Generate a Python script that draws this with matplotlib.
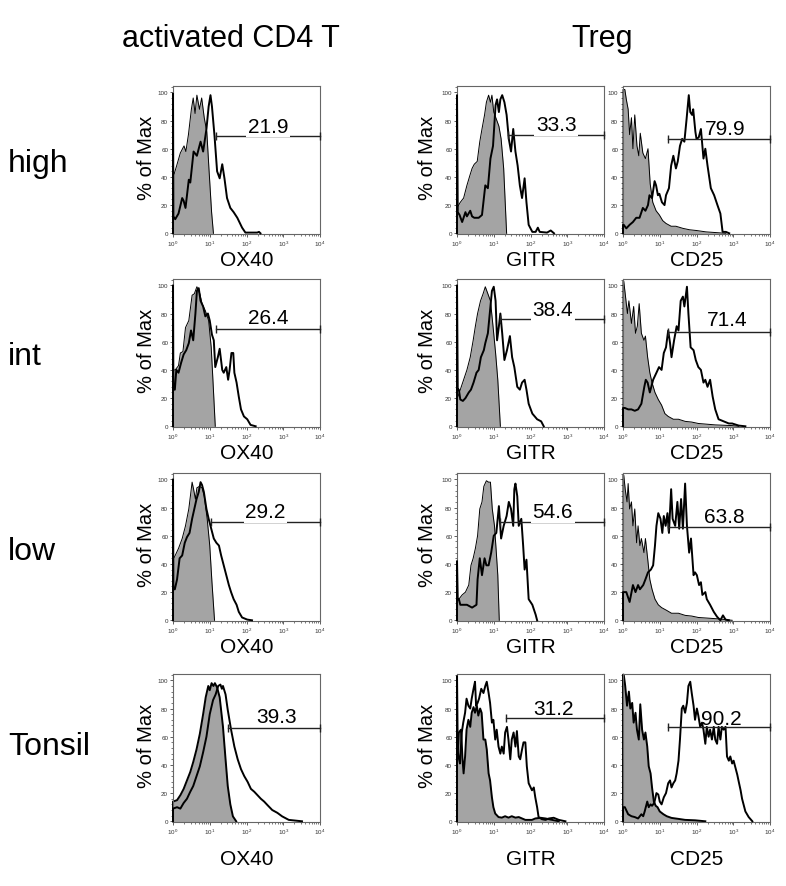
import matplotlib
matplotlib.use('Agg')
import matplotlib.pyplot as plt
from matplotlib.ticker import AutoMinorLocator, FixedLocator, LogLocator, NullFormatter
import numpy as np

plt.rcParams['font.family'] = ['Liberation Sans', 'DejaVu Sans']
plt.rcParams['mathtext.fontset'] = 'custom'
plt.rcParams['mathtext.rm'] = 'Liberation Sans'

# ---------------- data: (log10 intensity, % of max) ----------------
rows = ['high', 'int', 'low', 'Tonsil']
markers = ['OX40', 'GITR', 'CD25']
column_titles = ['activated CD4 T', 'Treg']

OX40_high_ctrl = [(0.00, 41), (0.03, 42), (0.10, 48), (0.20, 57), (0.30, 62), (0.35, 58), (0.42, 70), (0.50, 88),
                  (0.55, 96), (0.60, 85), (0.65, 98), (0.72, 88), (0.78, 96), (0.85, 82), (0.92, 72), (0.98, 45),
                  (1.05, 15), (1.10, 0)]
OX40_high_stain = [(0.00, 99), (0.01, 12), (0.06, 10), (0.15, 14), (0.25, 25), (0.29, 23), (0.34, 18), (0.43, 38),
                   (0.47, 36), (0.56, 58), (0.65, 55), (0.75, 65), (0.82, 58), (0.91, 74), (0.97, 90), (1.02, 98),
                   (1.06, 90), (1.13, 69), (1.20, 44), (1.27, 39), (1.34, 49), (1.40, 39), (1.47, 25), (1.56, 18),
                   (1.65, 15), (1.75, 11), (1.88, 4), (1.97, 0.5), (2.29, 0.5), (2.34, 1), (2.38, 0)]

OX40_int_ctrl = [(0.00, 40), (0.06, 40), (0.15, 43), (0.20, 52), (0.27, 53), (0.34, 70), (0.43, 75), (0.52, 93),
                 (0.58, 94), (0.65, 99), (0.73, 94), (0.79, 87), (0.88, 82), (0.97, 75), (1.04, 56), (1.09, 31),
                 (1.15, 0)]
OX40_int_stain = [(0.00, 100), (0.01, 26), (0.05, 26), (0.09, 40), (0.15, 38), (0.22, 45), (0.29, 51), (0.36, 54),
                  (0.43, 59), (0.49, 68), (0.55, 61), (0.61, 80), (0.65, 96), (0.70, 98), (0.75, 89), (0.82, 85),
                  (0.88, 78), (0.95, 80), (1.00, 75), (1.06, 65), (1.11, 61), (1.15, 42), (1.22, 49), (1.27, 55),
                  (1.34, 40), (1.38, 38), (1.45, 42), (1.50, 33), (1.54, 40), (1.59, 52), (1.64, 52), (1.67, 38),
                  (1.73, 31), (1.79, 21), (1.85, 12), (1.93, 7), (2.02, 5), (2.11, 1), (2.25, 0)]

OX40_low_ctrl = [(0.00, 43), (0.06, 46), (0.15, 51), (0.25, 58), (0.34, 67), (0.43, 79), (0.52, 98), (0.56, 93),
                 (0.61, 86), (0.65, 94), (0.72, 95), (0.79, 94), (0.85, 88), (0.93, 72), (1.00, 53), (1.06, 27),
                 (1.13, 0)]
OX40_low_stain = [(0.00, 100), (0.01, 22), (0.05, 22), (0.11, 29), (0.18, 44), (0.25, 46), (0.32, 55), (0.38, 59),
                  (0.45, 62), (0.52, 72), (0.58, 79), (0.64, 86), (0.70, 91), (0.75, 98), (0.79, 96), (0.84, 91),
                  (0.91, 79), (0.97, 72), (1.04, 65), (1.11, 58), (1.18, 55), (1.25, 53), (1.31, 46), (1.38, 39),
                  (1.45, 32), (1.52, 25), (1.58, 20), (1.65, 15), (1.73, 11), (1.79, 6), (1.88, 2), (2.02, 0.5),
                  (2.15, 0)]

OX40_tonsil_ctrl = [(0.00, 14), (0.11, 15), (0.20, 18.5), (0.29, 23), (0.38, 29), (0.47, 35), (0.55, 42), (0.64, 51),
                    (0.73, 62), (0.82, 76), (0.89, 88), (0.96, 96), (1.00, 93), (1.05, 98), (1.10, 96), (1.14, 98),
                    (1.20, 95), (1.27, 88), (1.36, 67), (1.43, 44), (1.49, 25), (1.56, 12), (1.63, 3.5), (1.72, 0)]
OX40_tonsil_stain = [(0.00, 9), (0.11, 10), (0.20, 9), (0.29, 13), (0.38, 16), (0.47, 21), (0.55, 25), (0.64, 32),
                     (0.73, 39), (0.82, 49), (0.91, 60), (1.00, 76), (1.09, 86), (1.16, 90), (1.23, 96), (1.29, 97),
                     (1.33, 94), (1.36, 96), (1.43, 90), (1.49, 79), (1.58, 65), (1.67, 53), (1.76, 44), (1.85, 37),
                     (1.94, 32), (2.03, 28), (2.12, 23), (2.21, 21), (2.30, 18.5), (2.39, 16), (2.48, 14),
                     (2.57, 11.5), (2.70, 8), (2.84, 6), (2.97, 3.5), (3.15, 1), (3.33, 0.5), (3.51, 0)]

GITR_high_ctrl = [(0.00, 18), (0.09, 22), (0.18, 25), (0.27, 34), (0.35, 41), (0.41, 46), (0.47, 49), (0.55, 51),
                  (0.62, 65), (0.68, 74), (0.75, 84), (0.80, 93), (0.86, 98), (0.91, 93), (0.95, 98), (1.00, 86),
                  (1.07, 81), (1.14, 76), (1.20, 67), (1.27, 46), (1.35, 0)]
GITR_high_stain = [(0.00, 98), (0.02, 15), (0.07, 13), (0.14, 8), (0.23, 15), (0.27, 12), (0.36, 16), (0.41, 12),
                   (0.47, 11), (0.59, 11), (0.68, 13), (0.77, 34), (0.84, 32), (0.91, 53), (0.98, 62), (1.05, 91),
                   (1.09, 95), (1.14, 86), (1.18, 95), (1.23, 98), (1.29, 93), (1.35, 84), (1.41, 67), (1.47, 58),
                   (1.53, 74), (1.59, 58), (1.65, 48), (1.71, 34), (1.77, 25), (1.84, 39), (1.89, 22), (1.95, 6),
                   (2.05, 1), (2.14, 1), (2.20, 4), (2.25, 1), (2.45, 0.5), (2.55, 2), (2.64, 0)]

GITR_int_ctrl = [(0.00, 19), (0.09, 26), (0.18, 33), (0.27, 40), (0.36, 49), (0.44, 61), (0.50, 71), (0.56, 80),
                 (0.64, 89), (0.71, 94), (0.77, 99), (0.84, 94), (0.91, 89), (0.98, 71), (1.05, 52), (1.11, 33),
                 (1.18, 0)]
GITR_int_stain = [(0.00, 100), (0.02, 26), (0.05, 26), (0.09, 19), (0.16, 18), (0.23, 20), (0.32, 24), (0.38, 26),
                  (0.45, 31), (0.53, 38), (0.59, 40), (0.65, 49), (0.73, 54), (0.77, 59), (0.84, 66), (0.91, 85),
                  (0.95, 96), (1.00, 99), (1.05, 89), (1.09, 61), (1.14, 71), (1.18, 80), (1.23, 66), (1.29, 47),
                  (1.36, 54), (1.44, 64), (1.50, 49), (1.56, 42), (1.64, 28), (1.71, 26), (1.77, 31), (1.84, 33),
                  (1.89, 26), (1.95, 16), (2.05, 9), (2.18, 5), (2.29, 3.5), (2.36, 0)]

GITR_low_ctrl = [(0.00, 15), (0.05, 15), (0.14, 18), (0.23, 20), (0.32, 25), (0.38, 39), (0.44, 44), (0.50, 51),
                 (0.56, 60), (0.62, 79), (0.68, 84), (0.73, 95), (0.80, 99), (0.86, 98), (0.91, 98), (0.96, 79),
                 (1.02, 67), (1.07, 48), (1.11, 32), (1.15, 0)]
GITR_low_stain = [(0.00, 42), (0.02, 15), (0.05, 15), (0.09, 11), (0.18, 11), (0.27, 11), (0.41, 9), (0.53, 11),
                  (0.56, 29), (0.62, 44), (0.68, 32), (0.75, 44), (0.80, 39), (0.86, 39), (0.93, 48), (1.00, 60),
                  (1.07, 62), (1.14, 81), (1.20, 58), (1.27, 67), (1.35, 74), (1.41, 84), (1.47, 79), (1.53, 67),
                  (1.56, 93), (1.59, 97), (1.64, 88), (1.68, 67), (1.75, 72), (1.80, 53), (1.84, 36), (1.89, 43),
                  (1.95, 15), (2.05, 11), (2.14, 4), (2.18, 0)]

GITR_tonsil_ctrl = [(0.00, 48), (0.02, 48), (0.05, 63), (0.11, 65), (0.15, 44), (0.18, 34), (0.22, 46), (0.26, 65),
                    (0.31, 72), (0.36, 67), (0.40, 77), (0.45, 81), (0.49, 77), (0.54, 82), (0.58, 75), (0.63, 80),
                    (0.67, 77), (0.72, 58), (0.77, 58), (0.81, 51), (0.86, 34), (0.90, 29), (0.95, 17), (0.99, 10),
                    (1.04, 5.5), (1.13, 3), (1.22, 2.6), (1.31, 3.6), (1.40, 2.6), (1.49, 3.6), (1.59, 2.6),
                    (1.68, 3), (1.77, 2), (1.86, 1), (2.04, 1), (2.13, 2), (2.27, 2.5), (2.41, 2), (2.59, 1),
                    (2.77, 0)]
GITR_tonsil_stain = [(0.00, 103), (0.02, 50), (0.04, 46), (0.08, 41), (0.13, 63), (0.17, 70), (0.22, 77),
                     (0.26, 87), (0.31, 82), (0.36, 80), (0.40, 87), (0.45, 94), (0.49, 99), (0.52, 82), (0.56, 84),
                     (0.60, 87), (0.66, 94), (0.72, 91), (0.77, 96), (0.81, 99), (0.86, 91), (0.90, 84), (0.95, 70),
                     (0.99, 72), (1.04, 58), (1.08, 65), (1.13, 53), (1.18, 48), (1.22, 53), (1.27, 48), (1.31, 63),
                     (1.36, 67), (1.40, 58), (1.45, 44), (1.49, 58), (1.54, 63), (1.59, 53), (1.63, 64), (1.68, 46),
                     (1.72, 44), (1.77, 51), (1.81, 56), (1.86, 56), (1.90, 39), (1.95, 27), (2.04, 22), (2.09, 24),
                     (2.13, 17), (2.18, 10), (2.22, 3), (2.31, 1.5), (2.41, 1), (2.50, 2), (2.63, 2.5), (2.77, 1),
                     (2.95, 0)]

CD25_high_ctrl = [(0.00, 102), (0.05, 102), (0.09, 95), (0.14, 88), (0.18, 70), (0.23, 82), (0.27, 60), (0.32, 84),
                  (0.38, 62), (0.43, 55), (0.47, 71), (0.54, 57), (0.61, 53), (0.68, 60), (0.74, 35), (0.81, 22),
                  (0.90, 16), (0.99, 13), (1.08, 9), (1.17, 7), (1.31, 5), (1.44, 5), (1.63, 3.5), (1.81, 2.5),
                  (1.99, 2), (2.26, 1), (2.53, 0.5), (2.80, 0)]
CD25_high_stain = [(0.00, 6), (0.02, 6), (0.09, 3.5), (0.18, 6), (0.27, 8), (0.36, 11), (0.45, 11), (0.54, 18),
                   (0.61, 16), (0.68, 20), (0.72, 27), (0.79, 25), (0.86, 37), (0.90, 34), (0.95, 27), (0.99, 28),
                   (1.06, 22), (1.13, 20), (1.17, 27), (1.25, 32), (1.31, 48), (1.37, 55), (1.44, 46), (1.49, 51),
                   (1.55, 62), (1.61, 67), (1.67, 65), (1.73, 81), (1.79, 98), (1.83, 86), (1.88, 84), (1.91, 88),
                   (1.97, 72), (2.00, 67), (2.06, 68), (2.12, 74), (2.19, 53), (2.24, 60), (2.30, 48), (2.39, 32),
                   (2.48, 27), (2.57, 20), (2.65, 14), (2.71, 1), (2.80, 1), (2.89, 0)]

CD25_int_ctrl = [(0.00, 103), (0.02, 103), (0.06, 94), (0.12, 80), (0.16, 89), (0.23, 73), (0.29, 85), (0.34, 66),
                 (0.39, 71), (0.44, 87), (0.50, 66), (0.57, 61), (0.61, 64), (0.67, 49), (0.73, 38), (0.79, 31),
                 (0.87, 24), (0.96, 19), (1.05, 15), (1.14, 9), (1.23, 7), (1.37, 5), (1.51, 5), (1.69, 3.5),
                 (1.87, 3), (2.05, 2), (2.51, 1), (2.97, 0.5), (3.15, 0)]
CD25_int_stain = [(0.00, 13), (0.05, 13), (0.14, 12), (0.23, 12), (0.32, 11), (0.41, 12), (0.50, 16), (0.58, 28),
                  (0.62, 33), (0.67, 31), (0.73, 24), (0.82, 33), (0.91, 38), (0.98, 42), (1.05, 40), (1.11, 52),
                  (1.17, 56), (1.23, 68), (1.28, 59), (1.32, 49), (1.39, 61), (1.46, 71), (1.51, 68), (1.57, 89),
                  (1.63, 92), (1.67, 85), (1.74, 99), (1.78, 80), (1.84, 56), (1.92, 54), (1.98, 47), (2.05, 42),
                  (2.12, 40), (2.19, 31), (2.24, 33), (2.30, 28), (2.37, 33), (2.44, 21), (2.51, 12), (2.60, 5),
                  (2.74, 3.5), (2.88, 2), (2.97, 2), (3.15, 0.5), (3.33, 0)]

CD25_low_ctrl = [(0.00, 103), (0.02, 103), (0.06, 93), (0.11, 84), (0.14, 97), (0.18, 79), (0.23, 84), (0.27, 67),
                 (0.32, 79), (0.37, 55), (0.41, 67), (0.46, 53), (0.50, 58), (0.57, 48), (0.61, 58), (0.67, 44),
                 (0.73, 29), (0.79, 22), (0.87, 15), (0.96, 11), (1.05, 9), (1.19, 7), (1.32, 5), (1.51, 5),
                 (1.69, 3.5), (1.87, 3), (2.05, 2), (2.33, 1.5), (2.60, 1), (2.97, 0)]
CD25_low_stain = [(0.00, 20), (0.03, 20), (0.09, 20), (0.18, 13), (0.27, 25), (0.34, 20), (0.41, 25), (0.46, 22),
                  (0.55, 25), (0.61, 29), (0.68, 34), (0.76, 36), (0.82, 39), (0.87, 53), (0.91, 67), (0.96, 76),
                  (1.02, 72), (1.07, 62), (1.11, 74), (1.16, 67), (1.21, 76), (1.25, 62), (1.31, 93), (1.35, 72),
                  (1.42, 67), (1.48, 84), (1.53, 65), (1.58, 86), (1.63, 65), (1.69, 97), (1.74, 67), (1.80, 48),
                  (1.85, 58), (1.92, 32), (1.96, 34), (2.01, 32), (2.07, 25), (2.12, 27), (2.16, 18), (2.24, 20),
                  (2.28, 15), (2.37, 11), (2.47, 6), (2.56, 2.5), (2.65, 0), (2.72, 3.5), (2.79, 0.5), (2.88, 0)]

CD25_tonsil_ctrl = [(0.00, 104), (0.02, 104), (0.06, 96), (0.11, 82), (0.16, 92), (0.20, 80), (0.25, 84),
                    (0.29, 70), (0.34, 77), (0.38, 65), (0.43, 58), (0.47, 83), (0.52, 65), (0.57, 58), (0.61, 63),
                    (0.66, 53), (0.70, 39), (0.75, 34), (0.79, 24), (0.84, 14), (0.89, 11), (0.94, 10), (1.00, 7),
                    (1.10, 5), (1.19, 3.6), (1.32, 2.4), (1.51, 1.7), (1.69, 1), (1.96, 0.7), (2.24, 0)]
CD25_tonsil_stain = [(0.00, 10), (0.05, 10), (0.14, 5), (0.23, 3.6), (0.32, 3), (0.41, 2), (0.50, 5), (0.55, 3.6),
                     (0.59, 7), (0.66, 14), (0.70, 10), (0.75, 12), (0.79, 11), (0.85, 13), (0.91, 20), (0.96, 19),
                     (1.00, 14), (1.05, 12), (1.11, 17), (1.17, 20), (1.23, 27), (1.28, 29), (1.32, 24), (1.37, 27),
                     (1.42, 29), (1.46, 34), (1.51, 43), (1.55, 58), (1.60, 80), (1.64, 82), (1.69, 77), (1.74, 84),
                     (1.78, 96), (1.83, 99), (1.87, 91), (1.92, 82), (1.96, 72), (2.01, 80), (2.05, 75), (2.10, 67),
                     (2.15, 70), (2.19, 65), (2.24, 55), (2.28, 67), (2.33, 60), (2.37, 65), (2.42, 58), (2.47, 67),
                     (2.51, 58), (2.56, 55), (2.60, 67), (2.65, 58), (2.69, 67), (2.74, 65), (2.79, 67), (2.83, 46),
                     (2.88, 43), (2.92, 46), (2.97, 41), (3.01, 43), (3.06, 38), (3.11, 33), (3.15, 28), (3.20, 22),
                     (3.24, 16), (3.33, 7), (3.42, 3), (3.52, 0)]

# gates: start (log10), level (% of max), reported percentage
OX40_gate_start = [1.18, 1.18, 1.04, 1.50]
OX40_gate_level = [69, 69, 70, 66]
OX40_pct = ['21.9', '26.4', '29.2', '39.3']
GITR_gate_start = [1.40, 1.18, 1.18, 1.32]
GITR_gate_level = [70, 76, 70, 73]
GITR_pct = ['33.3', '38.4', '54.6', '31.2']
CD25_gate_start = [1.22, 1.22, 1.22, 1.22]
CD25_gate_level = [67, 67, 66, 67]
CD25_pct = ['79.9', '71.4', '63.8', '90.2']

curves = {
    'OX40': [(OX40_high_ctrl, OX40_high_stain), (OX40_int_ctrl, OX40_int_stain),
             (OX40_low_ctrl, OX40_low_stain), (OX40_tonsil_ctrl, OX40_tonsil_stain)],
    'GITR': [(GITR_high_ctrl, GITR_high_stain), (GITR_int_ctrl, GITR_int_stain),
             (GITR_low_ctrl, GITR_low_stain), (GITR_tonsil_ctrl, GITR_tonsil_stain)],
    'CD25': [(CD25_high_ctrl, CD25_high_stain), (CD25_int_ctrl, CD25_int_stain),
             (CD25_low_ctrl, CD25_low_stain), (CD25_tonsil_ctrl, CD25_tonsil_stain)],
}
gates = {
    'OX40': (OX40_gate_start, OX40_gate_level, OX40_pct),
    'GITR': (GITR_gate_start, GITR_gate_level, GITR_pct),
    'CD25': (CD25_gate_start, CD25_gate_level, CD25_pct),
}

# ---------------- layout ----------------
W, H = 786, 887
col_left = [173, 457, 623]
row_top = [87, 280, 474, 675]
ax_w, ax_h = 147, 148
label_x = {'OX40': [2.59, 2.58, 2.52, 2.82], 'GITR': [2.70, 2.60, 2.60, 2.63], 'CD25': [2.78, 2.84, 2.76, 2.68]}
label_box = {'OX40': [True, False, True, False], 'GITR': [True, True, True, False], 'CD25': [False] * 4}
label_dy = {'OX40': [3, 4.5, 3, 4.5], 'GITR': [3, 3, 3, 3], 'CD25': [3.7, 4.7, 3.7, 1.8]}
xlabel_y = [-0.17, -0.17, -0.17, -0.245]
ylabel_x = [-0.18, -0.20]

GRAY = '#a4a4a4'

fig = plt.figure(figsize=(W / 100, H / 100), dpi=100)


def arr(pts):
    a = np.array(pts, dtype=float)
    return np.r_[10 ** a[0, 0], 10 ** a[:, 0]], np.r_[0.0, a[:, 1]]


for ri, rname in enumerate(rows):
    for ci, m in enumerate(markers):
        ax = fig.add_axes([col_left[ci] / W, 1 - (row_top[ri] + ax_h) / H, ax_w / W, ax_h / H])
        ctrl, stain = curves[m][ri]
        cx, cy = arr(ctrl)
        sx, sy = arr(stain)
        tonsil = (rname == 'Tonsil')
        ax.fill_between(cx, cy, -2, color=GRAY, lw=0, zorder=1)
        ax.plot(cx, cy, color='black', lw=1.4 if tonsil else 0.7, zorder=2, clip_on=False)
        ax.plot(sx, sy, color='black', lw=1.4, zorder=3, clip_on=False)

        # gate
        gs, gl, gp = gates[m]
        ax.plot([10 ** gs[ri], 1e4], [gl[ri], gl[ri]], color='#222222', lw=1.0, zorder=4,
                marker='|', markersize=6, mew=1.0, clip_on=False)
        kw = dict(ha='center', va='baseline', fontsize=15, color='black', zorder=5)
        if label_box[m][ri]:
            kw['bbox'] = dict(facecolor='white', edgecolor='none', pad=1.2)
        ax.text(10 ** label_x[m][ri], gl[ri] + label_dy[m][ri], gp[ri], **kw)

        ax.set_xscale('log')
        ax.set_xlim(1, 1e4)
        ax.set_ylim(-0.5, 104.5)
        ax.xaxis.set_major_locator(LogLocator(base=10, numticks=10))
        ax.xaxis.set_minor_locator(LogLocator(base=10, subs=np.arange(2, 10), numticks=20))
        ax.xaxis.set_minor_formatter(NullFormatter())
        ax.yaxis.set_major_locator(FixedLocator([0, 20, 40, 60, 80, 100]))
        ax.yaxis.set_minor_locator(AutoMinorLocator(5))
        ax.tick_params(which='major', direction='out', length=2.5, width=0.6, color='#444444',
                       labelsize=4.5, labelcolor='#333333', pad=1.0)
        ax.tick_params(which='minor', direction='out', length=1.4, width=0.5, color='#444444')
        for s in ax.spines.values():
            s.set_color('#666666')
            s.set_linewidth(0.8)

        ax.text(0.5, xlabel_y[ri], m, transform=ax.transAxes, ha='center', va='center', fontsize=15)
        if ci < 2:
            ax.text(ylabel_x[ci], 0.52, '% of Max', transform=ax.transAxes, rotation=90,
                    ha='center', va='center', fontsize=14.5)

# titles and row labels
fig.text(231 / W, 1 - 39 / H, column_titles[0], ha='center', va='center', fontsize=22)
fig.text(602 / W, 1 - 39 / H, column_titles[1], ha='center', va='center', fontsize=22)
for rname, yc in zip(rows, [164, 357, 552, 747]):
    fig.text(8 / W, 1 - yc / H, rname, ha='left', va='center', fontsize=23)

fig.savefig('out.png', dpi=100)
